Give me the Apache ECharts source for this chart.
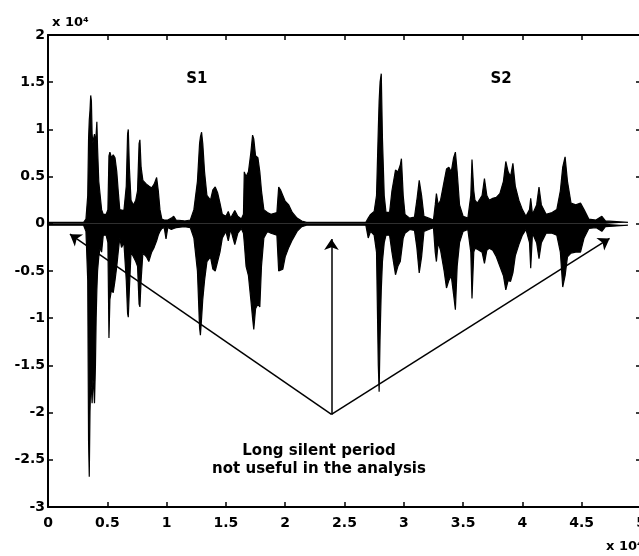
<!DOCTYPE html>
<html>
<head>
<meta charset="utf-8">
<script src="https://cdn.jsdelivr.net/npm/echarts@6/dist/echarts.min.js"></script>
<style>
  html, body { margin: 0; padding: 0; background: #fff; }
  #chart { width: 639px; height: 556px; }
</style>
</head>
<body>
<div id="chart"></div>
<script>
// Speech waveform envelope, [time (x10^4 samples), max amplitude, min amplitude] (x10^4)
const envelopeS1 = [
  [0.00, 0.015, -0.015], [0.30, 0.015, -0.015], [0.32, 0.05, -0.08], [0.335, 0.3, -0.6],
  [0.342, 0.9, -2.3], [0.348, 1.1, -2.68], [0.354, 1.2, -2.0], [0.360, 1.36, -1.7],
  [0.366, 1.30, -1.75], [0.372, 0.95, -1.9], [0.378, 0.85, -1.65], [0.384, 0.9, -1.7],
  [0.392, 0.95, -1.9], [0.400, 0.85, -1.5], [0.406, 0.95, -1.0], [0.412, 1.08, -0.7],
  [0.418, 0.8, -0.5], [0.428, 0.45, -0.35], [0.44, 0.3, -0.25], [0.452, 0.15, -0.3],
  [0.466, 0.1, -0.12], [0.49, 0.1, -0.12], [0.505, 0.15, -0.2], [0.514, 0.72, -1.21],
  [0.522, 0.76, -0.8], [0.535, 0.70, -0.7], [0.55, 0.73, -0.73], [0.565, 0.7, -0.6],
  [0.58, 0.55, -0.45], [0.592, 0.35, -0.3], [0.605, 0.15, -0.15], [0.62, 0.15, -0.25],
  [0.64, 0.14, -0.2], [0.66, 0.4, -0.6], [0.671, 0.95, -0.95], [0.677, 1.0, -0.99],
  [0.686, 0.6, -0.7], [0.70, 0.25, -0.3], [0.72, 0.2, -0.35], [0.74, 0.25, -0.4],
  [0.755, 0.35, -0.45], [0.768, 0.85, -0.85], [0.775, 0.89, -0.88], [0.785, 0.6, -0.6],
  [0.80, 0.46, -0.31], [0.83, 0.42, -0.35], [0.85, 0.40, -0.40], [0.874, 0.38, -0.30],
  [0.895, 0.42, -0.25], [0.916, 0.49, -0.18], [0.93, 0.35, -0.12], [0.944, 0.15, -0.08],
  [0.96, 0.05, -0.05], [0.98, 0.04, -0.04], [0.995, 0.06, -0.16], [1.01, 0.04, -0.04],
  [1.04, 0.06, -0.06], [1.06, 0.08, -0.05], [1.08, 0.04, -0.04], [1.15, 0.03, -0.03],
  [1.20, 0.04, -0.04], [1.23, 0.15, -0.15], [1.26, 0.45, -0.5], [1.278, 0.85, -1.1],
  [1.285, 0.92, -1.18], [1.295, 0.97, -1.0], [1.305, 0.85, -0.8], [1.32, 0.55, -0.6],
  [1.34, 0.30, -0.4], [1.37, 0.25, -0.35], [1.39, 0.36, -0.48], [1.41, 0.39, -0.50],
  [1.43, 0.33, -0.40], [1.45, 0.22, -0.30], [1.47, 0.10, -0.15], [1.50, 0.08, -0.08],
  [1.52, 0.13, -0.18], [1.54, 0.06, -0.06], [1.575, 0.14, -0.22], [1.60, 0.08, -0.1],
  [1.63, 0.05, -0.05], [1.648, 0.10, -0.1], [1.655, 0.55, -0.2], [1.67, 0.50, -0.45],
  [1.69, 0.55, -0.55], [1.71, 0.75, -0.80], [1.725, 0.94, -1.0], [1.735, 0.90, -1.12],
  [1.75, 0.72, -0.90], [1.77, 0.70, -0.85], [1.786, 0.55, -0.88], [1.80, 0.35, -0.45],
  [1.82, 0.15, -0.15], [1.85, 0.12, -0.08], [1.88, 0.10, -0.10], [1.93, 0.12, -0.12],
  [1.945, 0.39, -0.50], [1.96, 0.36, -0.51], [1.98, 0.30, -0.48], [2.00, 0.24, -0.35],
  [2.03, 0.20, -0.25], [2.06, 0.12, -0.17], [2.10, 0.06, -0.08], [2.14, 0.03, -0.03],
  [2.18, 0.015, -0.015]
];

const envelopeS2 = [
  [2.68, 0.015, -0.015], [2.70, 0.06, -0.15], [2.72, 0.10, -0.08], [2.75, 0.13, -0.12],
  [2.77, 0.3, -0.3], [2.785, 1.0, -1.5], [2.792, 1.3, -1.78], [2.80, 1.5, -1.2],
  [2.81, 1.59, -0.7], [2.82, 0.9, -0.4], [2.835, 0.3, -0.2], [2.85, 0.12, -0.12],
  [2.88, 0.12, -0.12], [2.90, 0.35, -0.3], [2.93, 0.57, -0.54], [2.95, 0.55, -0.45],
  [2.97, 0.62, -0.40], [2.98, 0.69, -0.3], [2.995, 0.3, -0.15], [3.01, 0.1, -0.1],
  [3.05, 0.06, -0.06], [3.09, 0.07, -0.07], [3.11, 0.25, -0.25], [3.13, 0.46, -0.52],
  [3.15, 0.3, -0.35], [3.17, 0.08, -0.08], [3.21, 0.06, -0.06], [3.25, 0.04, -0.04],
  [3.265, 0.2, -0.3], [3.275, 0.32, -0.40], [3.29, 0.2, -0.2], [3.31, 0.25, -0.28],
  [3.34, 0.45, -0.5], [3.36, 0.58, -0.68], [3.38, 0.60, -0.60], [3.40, 0.55, -0.55],
  [3.42, 0.70, -0.75], [3.435, 0.76, -0.91], [3.45, 0.55, -0.45], [3.47, 0.2, -0.2],
  [3.50, 0.08, -0.08], [3.54, 0.06, -0.06], [3.565, 0.3, -0.3], [3.575, 0.68, -0.79],
  [3.59, 0.35, -0.3], [3.60, 0.25, -0.26], [3.62, 0.22, -0.27], [3.66, 0.3, -0.3],
  [3.68, 0.48, -0.42], [3.70, 0.3, -0.28], [3.72, 0.25, -0.26], [3.75, 0.27, -0.28],
  [3.78, 0.28, -0.35], [3.81, 0.32, -0.45], [3.84, 0.45, -0.55], [3.86, 0.66, -0.70],
  [3.88, 0.55, -0.60], [3.90, 0.50, -0.61], [3.92, 0.64, -0.52], [3.94, 0.40, -0.34],
  [3.97, 0.25, -0.22], [4.00, 0.15, -0.12], [4.03, 0.08, -0.06], [4.06, 0.15, -0.2],
  [4.07, 0.27, -0.47], [4.085, 0.1, -0.1], [4.12, 0.2, -0.2], [4.14, 0.39, -0.37],
  [4.16, 0.2, -0.2], [4.20, 0.10, -0.10], [4.25, 0.12, -0.10], [4.29, 0.15, -0.12],
  [4.32, 0.35, -0.3], [4.34, 0.60, -0.67], [4.36, 0.71, -0.55], [4.38, 0.45, -0.35],
  [4.41, 0.22, -0.31], [4.45, 0.20, -0.30], [4.49, 0.22, -0.30], [4.52, 0.15, -0.15],
  [4.56, 0.05, -0.05], [4.62, 0.04, -0.04], [4.67, 0.08, -0.08], [4.70, 0.03, -0.03],
  [4.89, 0.015, -0.015]
];

// Annotation: arrows converge at one point in the silent gap
const arrowOrigin = [2.39, -2.02];
const arrowTargets = [[0.185, -0.11], [2.39, -0.16], [4.735, -0.155]];

// Text labels placed in data coordinates
const textLabels = [
  [1.255, 1.53, 'S1'],
  [3.82, 1.53, 'S2'],
  [2.285, -2.50, 'Long silent period\nnot useful in the analysis']
];

// Axis ranges and tick spacing
const xRange = [0, 5], xStep = 0.5;
const yRange = [-3, 2], yStep = 0.5;

const waveform = envelopeS1.concat(envelopeS2);
const upperData = waveform.map(r => [r[0], r[1]]);
const lowerData = waveform.map(r => [r[0], r[2]]);

const FONT = '"DejaVu Sans", "Liberation Sans", Arial, sans-serif';
const INK = '#000000';

const chart = echarts.init(document.getElementById('chart'), null, { renderer: 'canvas' });

const axisCommon = {
  axisLine: { show: true, onZero: false, lineStyle: { color: INK, width: 2 } },
  axisTick: { show: true, inside: true, length: 5, lineStyle: { color: INK, width: 1.5 } },
  splitLine: { show: false }
};

chart.setOption({
  animation: false,
  backgroundColor: '#fff',
  grid: { left: 48, top: 35, width: 593, height: 472, outerBoundsMode: 'none', containLabel: false },
  xAxis: [
    Object.assign({
      type: 'value', min: xRange[0], max: xRange[1], interval: xStep, position: 'bottom',
      axisLabel: { color: INK, fontFamily: FONT, fontWeight: 'bold', fontSize: 14, margin: 9 }
    }, axisCommon),
    Object.assign({
      type: 'value', min: xRange[0], max: xRange[1], interval: xStep, position: 'top',
      axisLabel: { show: false }
    }, axisCommon)
  ],
  yAxis: [
    Object.assign({
      type: 'value', min: yRange[0], max: yRange[1], interval: yStep, position: 'left',
      axisLabel: { color: INK, fontFamily: FONT, fontWeight: 'bold', fontSize: 14, margin: 3 }
    }, axisCommon),
    Object.assign({
      type: 'value', min: yRange[0], max: yRange[1], interval: yStep, position: 'right',
      axisLabel: { show: false }
    }, axisCommon)
  ],
  graphic: [
    { type: 'text', left: 52, top: 16,
      style: { text: 'x 10⁴', fill: INK, font: 'bold 13px ' + FONT } },
    { type: 'text', left: 606, top: 540,
      style: { text: 'x 10⁴', fill: INK, font: 'bold 13px ' + FONT } }
  ],
  series: [
    {
      name: 'upper', type: 'line', data: upperData, showSymbol: false, silent: true,
      lineStyle: { color: INK, width: 1.2 }, areaStyle: { color: INK, opacity: 1 }
    },
    {
      name: 'lower', type: 'line', data: lowerData, showSymbol: false, silent: true,
      lineStyle: { color: INK, width: 1.2 }, areaStyle: { color: INK, opacity: 1 }
    },
    {
      name: 'arrows', type: 'line', data: [], silent: true,
      markLine: {
        silent: true,
        animation: false,
        symbol: ['none', 'arrow'],
        symbolSize: 11,
        label: { show: false },
        lineStyle: { color: INK, width: 1.5, type: 'solid', opacity: 1 },
        emphasis: { disabled: true },
        data: arrowTargets.map(t => [
          { coord: arrowOrigin, symbol: 'none' },
          { coord: t, symbol: 'arrow' }
        ])
      }
    },
    {
      name: 'labels', type: 'scatter', data: textLabels, symbolSize: 0, silent: true,
      itemStyle: { color: INK, opacity: 1 },
      label: {
        show: true, position: [0, 0], color: INK, opacity: 1, fontFamily: FONT,
        fontWeight: 'bold', fontSize: 15, lineHeight: 18, align: 'center', verticalAlign: 'middle',
        formatter: p => p.data[2]
      }
    }
  ]
});
</script>
</body>
</html>
